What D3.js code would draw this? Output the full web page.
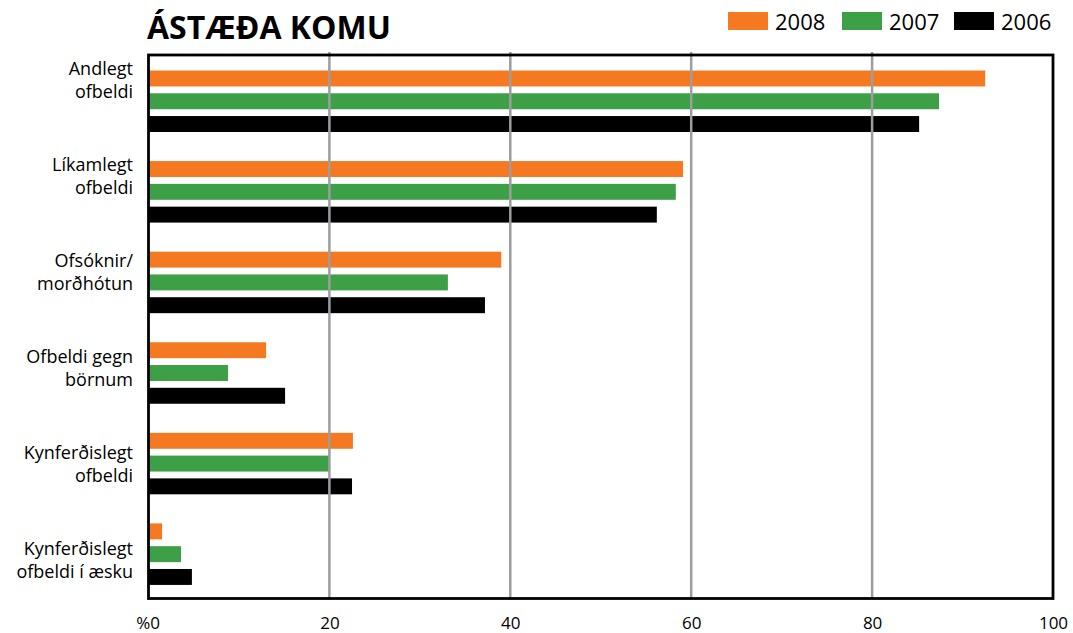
<!DOCTYPE html>
<html><head><meta charset="utf-8">
<script src="https://cdn.jsdelivr.net/npm/d3@7"></script>
<style>
html,body{margin:0;padding:0;background:#fff;}
text{font-family:"Open Sans","Noto Sans",sans-serif;}
</style></head>
<body><svg id="c" width="1073" height="633"></svg>
<script>
const title = "ÁSTÆÐA KOMU";
const categories = [["Andlegt","ofbeldi"],["Líkamlegt","ofbeldi"],["Ofsóknir/","morðhótun"],["Ofbeldi gegn","börnum"],["Kynferðislegt","ofbeldi"],["Kynferðislegt","ofbeldi í æsku"]];
const seriesNames = ["2008","2007","2006"];
const seriesColors = ["#f47920","#3da047","#000000"];
const v2008 = [92.5, 59.1, 39.0, 13.0, 22.6, 1.5];
const v2007 = [87.4, 58.3, 33.1, 8.8, 20.0, 3.6];
const v2006 = [85.2, 56.2, 37.2, 15.1, 22.5, 4.8];
const values = [v2008, v2007, v2006];
const xTicks = [0, 20, 40, 60, 80, 100];

const svg = d3.select("#c");
const L = 148.5, R = 1053, T = 55, B = 598.5;
const x = d3.scaleLinear().domain([0, 100]).range([L, R]);
const catIdx = categories.map((d,i)=>i);
const y0 = d3.scaleBand().domain(catIdx).range([T, B]).padding(0);
const y1 = d3.scaleBand().domain(seriesNames).range([15.5, 77]).paddingInner(0.3).paddingOuter(0);
const yLab = d3.scalePoint().domain(catIdx).range([T + 25, B - 38.5]);

// bars
seriesNames.forEach((s, si) => {
  svg.append("g").selectAll("rect").data(values[si]).join("rect")
    .attr("x", x(0))
    .attr("y", (d,i) => y0(i) + y1(s))
    .attr("width", d => x(d) - x(0))
    .attr("height", y1.bandwidth())
    .attr("fill", seriesColors[si]);
});

// gridlines (drawn over bars)
svg.append("g").selectAll("line").data(xTicks.filter(t => t > 0 && t < 100)).join("line")
  .attr("x1", d => x(d)).attr("x2", d => x(d))
  .attr("y1", T - 3).attr("y2", B)
  .attr("stroke", "#9d9d9f").attr("stroke-width", 2.5);

// frame
svg.append("rect").attr("x", L).attr("y", T).attr("width", R - L).attr("height", B - T)
  .attr("fill", "none").attr("stroke", "#000").attr("stroke-width", 2.8);

// x axis labels
const ax = svg.append("g").attr("transform", `translate(0,${B})`)
  .call(d3.axisBottom(x).tickValues(xTicks).tickSize(0).tickPadding(0).tickFormat(d => d === 0 ? "%0" : String(d)));
ax.select(".domain").remove();
ax.selectAll("text").attr("font-size", 17).attr("fill", "#000")
  .attr("font-family", "'Open Sans','Noto Sans',sans-serif")
  .attr("dy", null).attr("y", 30);
ax.selectAll(".tick").filter(d => d === 0).select("text").attr("text-anchor", "end").attr("x", 11);

// category labels (each line its own text)
const lab = svg.append("g").selectAll("g").data(categories).join("g")
  .attr("transform", (d,i) => `translate(133,${yLab(i)})`);
lab.selectAll("text").data(d => d).join("text")
  .attr("text-anchor", "end").attr("font-size", 18).attr("fill", "#000")
  .attr("x", 0)
  .attr("y", (d,i) => i === 0 ? -5.5 : 17.5)
  .text(d => d);

// title
svg.append("text").attr("x", 147).attr("y", 39).attr("font-size", 32).attr("font-weight", "bold")
  .attr("fill", "#000").text(title);

// legend
const legX = [728, 842, 954];
const lg = svg.append("g").selectAll("g").data(seriesNames).join("g")
  .attr("transform", (d,i) => `translate(${legX[i]},12)`);
lg.append("rect").attr("width", 40).attr("height", 18).attr("fill", (d,i) => seriesColors[i]);
lg.append("text").attr("x", 47).attr("y", 17.5).attr("font-size", 22).attr("fill", "#000").text(d => d);
</script></body></html>
